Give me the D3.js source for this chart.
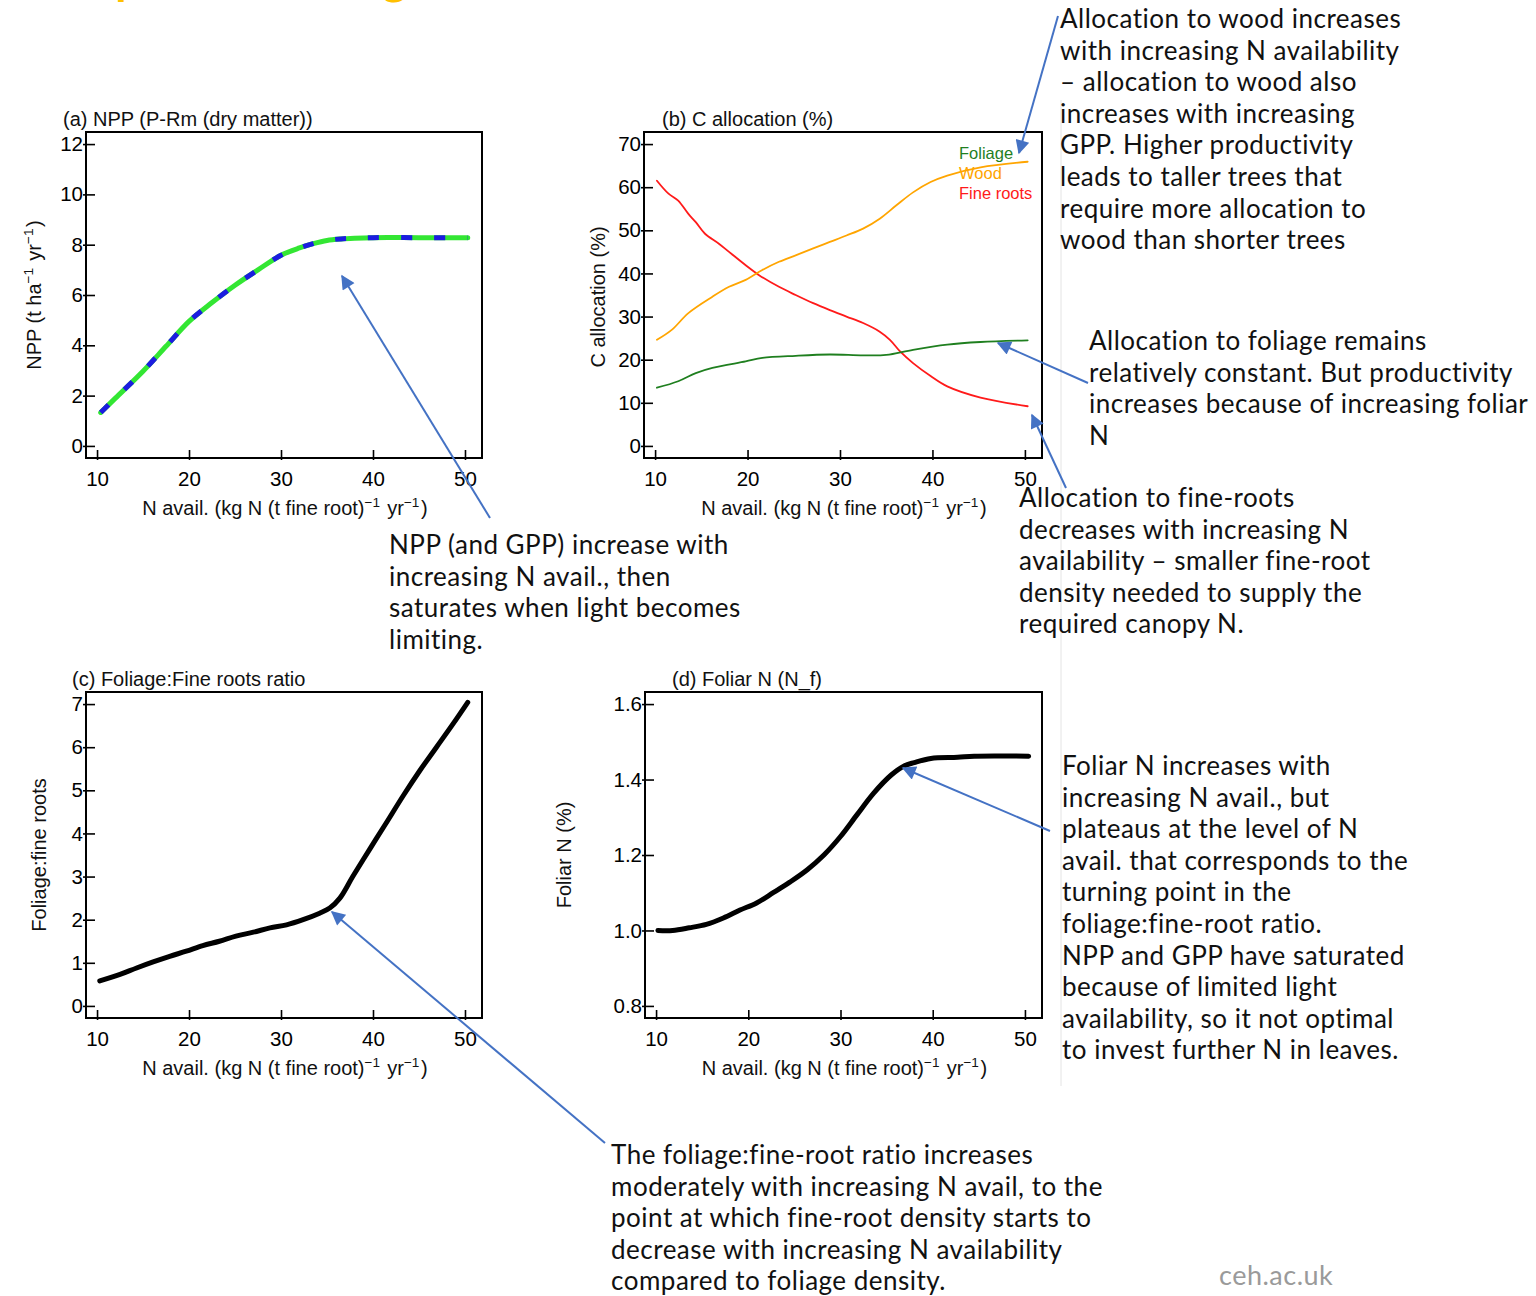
<!DOCTYPE html>
<html><head><meta charset="utf-8">
<script src="https://cdn.jsdelivr.net/npm/d3@7"></script>
<style>
html,body{margin:0;padding:0;background:#fff;}
svg{display:block;}
</style></head><body>
<script>
// ---- data: model responses along an N availability gradient ----
// (a) NPP, t ha-1 yr-1
const nppN   = [10.4, 12, 15, 17.5, 20, 22.5, 25, 27.5, 30, 32, 33.5, 35, 36.5, 38, 40, 45, 50.3];
const nppVal = [1.33, 1.9, 2.97, 3.96, 4.95, 5.7, 6.39, 7.0, 7.58, 7.87, 8.04, 8.17, 8.23, 8.26, 8.28, 8.28, 8.28];

// (b) C allocation, %
const rootN   = [10.2, 11.45, 12.5, 13.6, 14.4, 15.4, 16.9, 18, 19.8, 21.25, 23.4, 25.2, 27.1, 28.9, 30.7, 32.5, 34.3, 35.4, 36.5, 37.9, 39.8, 41.6, 45.2, 50.3];
const rootVal = [61.5, 58.5, 56.9, 53.8, 51.9, 49.2, 46.9, 45, 41.9, 39.6, 36.9, 35, 33.1, 31.5, 30, 28.5, 26.5, 24.6, 21.9, 19.2, 16.2, 13.8, 11.2, 9.2];
const woodN   = [10.2, 11.8, 13.6, 16.2, 18, 19.8, 21.6, 23.4, 25.2, 27.1, 28.9, 30.7, 32.5, 34.3, 36.1, 37.9, 39.8, 41.6, 45.2, 50.3];
const woodVal = [24.6, 26.9, 30.8, 34.6, 36.9, 38.5, 40.8, 42.7, 44.2, 45.8, 47.3, 48.8, 50.4, 52.7, 55.8, 58.8, 61.2, 62.7, 64.6, 65.9];
const foliageN   = [10.2, 12.5, 14.4, 16.2, 19.8, 21.6, 25.2, 28.9, 32.5, 35, 37.9, 41.6, 45.2, 50.3];
const foliageVal = [13.5, 15, 16.9, 18.1, 19.6, 20.4, 20.9, 21.2, 21, 21.1, 22.3, 23.5, 24.1, 24.5];
const allocLegend = ["Foliage", "Wood", "Fine roots"];

// (c) foliage : fine roots ratio
const ratioN   = [10.3, 12.5, 14.3, 16.1, 17.9, 19.7, 21.5, 23.3, 25.1, 27, 28.8, 30.6, 32.4, 34.2, 35.3, 36.4, 37.8, 39.6, 41.4, 43.3, 45.1, 46.9, 48.7, 50.3];
const ratioVal = [0.58, 0.73, 0.88, 1.02, 1.15, 1.27, 1.4, 1.5, 1.62, 1.71, 1.81, 1.88, 2.0, 2.15, 2.27, 2.5, 3.0, 3.62, 4.23, 4.88, 5.46, 6.0, 6.54, 7.04];

// (d) foliar N, %
const foliarN   = [10.2, 11.8, 13.6, 15.45, 17.3, 19.1, 20.9, 22.7, 24.5, 26.4, 28.2, 30, 31.8, 33.6, 35.5, 36.9, 38, 39.8, 42.7, 44.5, 50.4];
const foliarVal = [1.0, 1.0, 1.007, 1.016, 1.033, 1.054, 1.073, 1.1, 1.128, 1.161, 1.2, 1.249, 1.307, 1.364, 1.412, 1.436, 1.445, 1.456, 1.459, 1.462, 1.462];

// tick labels
const xTicks      = [10, 20, 30, 40, 50];
const nppTicks    = [0, 2, 4, 6, 8, 10, 12];
const allocTicks  = [0, 10, 20, 30, 40, 50, 60, 70];
const ratioTicks  = [0, 1, 2, 3, 4, 5, 6, 7];
const foliarTicks = [0.8, 1.0, 1.2, 1.4, 1.6];

// ---- drawing ----
const W = 1536, H = 1296;
const svg = d3.select("body").append("svg").attr("width", W).attr("height", H);

const plotFont = "'Liberation Sans', Arial, Helvetica, sans-serif";
const noteFont = "Lato, 'Noto Sans', sans-serif";
const blue = "#4472c4";

// slide heading (runs off the top edge)
svg.append("text").attr("x", 3).attr("y", -6)
  .attr("font-family", noteFont).attr("font-size", 46).attr("font-weight", 700)
  .attr("fill", "#ffc000").text("Example: increasing N");

// divider of the notes column
svg.append("line").attr("x1", 1061).attr("x2", 1061).attr("y1", 100).attr("y2", 1086)
  .attr("stroke", "#e4e4e4").attr("stroke-width", 1);

function supText(sel, parts) {
  // parts: array of [text, isSuperscript]
  parts.forEach(([t, sup]) => {
    if (sup) {
      sel.append("tspan").attr("dy", -8).attr("font-size", "0.68em").text(t);
      sel.append("tspan").attr("dy", 8).text("\u200A");
    } else {
      sel.append("tspan").text(t);
    }
  });
}

const xLabelParts = [["N avail. (kg N (t fine root)", false], ["\u22121", true], [" yr", false], ["\u22121", true], [")", false]];

function panel(cfg) {
  const g = svg.append("g");
  const f = cfg.frame;
  const x = d3.scaleLinear().domain([8.8, 51.85]).range([f.x0, f.x1]);
  const y = d3.scaleLinear().domain(cfg.yDomain).range([f.y1, f.y0]);

  const xa = g.append("g").attr("transform", `translate(0,${f.y1})`)
    .call(d3.axisBottom(x).tickValues(xTicks).tickSize(-8).tickSizeOuter(0).tickPadding(13));
  const ya = g.append("g").attr("transform", `translate(${f.x0},0)`)
    .call(d3.axisLeft(y).tickValues(cfg.yTicks).tickSize(-9).tickSizeOuter(0).tickPadding(3)
      .tickFormat(cfg.yFormat || d3.format("d")));
  [xa, ya].forEach(a => {
    a.select(".domain").remove();
    a.selectAll("line").attr("stroke", "#000").attr("stroke-width", 1.6);
    a.selectAll("text").attr("font-family", plotFont).attr("font-size", 20.5).attr("fill", "#000");
  });
  // small outer stub of each tick
  ya.selectAll(".tick").append("line").attr("x1", -3).attr("x2", 0).attr("stroke", "#000").attr("stroke-width", 1.6);
  xa.selectAll(".tick").append("line").attr("y1", 0).attr("y2", 2).attr("stroke", "#000").attr("stroke-width", 1.6);

  // plot box
  g.append("rect").attr("x", f.x0).attr("y", f.y0).attr("width", f.x1 - f.x0).attr("height", f.y1 - f.y0)
    .attr("fill", "none").attr("stroke", "#000").attr("stroke-width", 2);

  // title
  g.append("text").attr("x", cfg.titleX).attr("y", f.y0 - 6)
    .attr("font-family", plotFont).attr("font-size", 20).attr("fill", "#111").text(cfg.title);

  // x label
  const xl = g.append("text").attr("x", (f.x0 + f.x1) / 2 + 1).attr("y", f.y1 + 57)
    .attr("text-anchor", "middle").attr("font-family", plotFont).attr("font-size", 20).attr("fill", "#111");
  supText(xl, xLabelParts);

  // y label
  const yl = g.append("text")
    .attr("transform", `translate(${cfg.yLabelX},${cfg.yLabelY}) rotate(-90)`)
    .attr("text-anchor", "middle").attr("font-family", plotFont).attr("font-size", 20).attr("fill", "#111");
  supText(yl, cfg.yLabel);

  return {g, x, y};
}

function curve(p, xs, ys, color, width) {
  const line = d3.line().x(d => p.x(d[0])).y(d => p.y(d[1])).curve(d3.curveCatmullRom.alpha(0.5));
  const pts = d3.zip(xs, ys);
  return p.g.append("path").datum(pts).attr("d", line)
    .attr("fill", "none").attr("stroke", color).attr("stroke-width", width)
    .attr("stroke-linecap", "round").attr("stroke-linejoin", "round");
}

// (a)
const pa = panel({
  frame: {x0: 86, x1: 482, y0: 132, y1: 458}, yDomain: [-0.48, 12.48], yTicks: nppTicks,
  title: "(a) NPP (P-Rm (dry matter))", titleX: 63,
  yLabel: [["NPP (t ha", false], ["\u22121", true], [" yr", false], ["\u22121", true], [")", false]],
  yLabelX: 41, yLabelY: 295
});
curve(pa, nppN, nppVal, "#33e633", 5);
curve(pa, nppN, nppVal, "#1c1ce0", 5).attr("stroke-linecap", "butt").attr("stroke-dasharray", "11,22");

// (b)
const pb = panel({
  frame: {x0: 644, x1: 1042, y0: 132, y1: 458}, yDomain: [-2.8, 72.8], yTicks: allocTicks,
  title: "(b) C allocation (%)", titleX: 662,
  yLabel: [["C allocation (%)", false]], yLabelX: 605, yLabelY: 297
});
const allocColors = ["#1f7f1f", "#ffa500", "#ff1a1a"];
curve(pb, rootN, rootVal, allocColors[2], 1.8);
curve(pb, woodN, woodVal, allocColors[1], 1.8);
curve(pb, foliageN, foliageVal, allocColors[0], 1.8);
allocLegend.forEach((name, i) => {
  pb.g.append("text").attr("x", 959).attr("y", 159 + i * 20)
    .attr("font-family", plotFont).attr("font-size", 16.5).attr("fill", allocColors[i]).text(name);
});

// (c)
const pc = panel({
  frame: {x0: 86, x1: 482, y0: 692, y1: 1018}, yDomain: [-0.28, 7.28], yTicks: ratioTicks,
  title: "(c) Foliage:Fine roots ratio", titleX: 72,
  yLabel: [["Foliage:fine roots", false]], yLabelX: 46, yLabelY: 855
});
curve(pc, ratioN, ratioVal, "#000", 5);

// (d)
const pd = panel({
  frame: {x0: 645, x1: 1042, y0: 692, y1: 1018}, yDomain: [0.768, 1.632], yTicks: foliarTicks,
  yFormat: d3.format(".1f"),
  title: "(d) Foliar N (N_f)", titleX: 672,
  yLabel: [["Foliar N (%)", false]], yLabelX: 571, yLabelY: 855
});
curve(pd, foliarN, foliarVal, "#000", 5);

// ---- notes and pointers ----
const defs = svg.append("defs");
defs.append("marker").attr("id", "head").attr("viewBox", "0 0 10 10")
  .attr("refX", 9).attr("refY", 5).attr("markerWidth", 17).attr("markerHeight", 14)
  .attr("markerUnits", "userSpaceOnUse").attr("orient", "auto")
  .append("path").attr("d", "M0,0 L10,5 L0,10 Z").attr("fill", blue);

const pointers = [
  [1058, 16, 1019, 153],
  [1088, 383, 998, 343],
  [1066, 488, 1032, 415],
  [490, 518, 342, 276],
  [1050, 831, 903, 768],
  [605, 1143, 332, 912]
];
pointers.forEach(([x1, y1, x2, y2]) => {
  svg.append("line").attr("x1", x1).attr("y1", y1).attr("x2", x2).attr("y2", y2)
    .attr("stroke", blue).attr("stroke-width", 2).attr("marker-end", "url(#head)");
});

const notes = [
  {x: 1060, y: 28, lines: ["Allocation to wood increases", "with increasing N availability", "\u2013 allocation to wood also", "increases with increasing", "GPP. Higher productivity", "leads to taller trees that", "require more allocation to", "wood than shorter trees"]},
  {x: 1089, y: 350, lines: ["Allocation to foliage remains", "relatively constant. But productivity", "increases because of increasing foliar", "N"]},
  {x: 1019, y: 507, lines: ["Allocation to fine-roots", "decreases with increasing N", "availability \u2013 smaller fine-root", "density needed to supply the", "required canopy N."]},
  {x: 389, y: 554, lines: ["NPP (and GPP) increase with", "increasing N avail., then", "saturates when light becomes", "limiting."]},
  {x: 1062, y: 775, lines: ["Foliar N increases with", "increasing N avail., but", "plateaus at the level of N", "avail. that corresponds to the", "turning point in the", "foliage:fine-root ratio.", "NPP and GPP have saturated", "because of limited light", "availability, so it not optimal", "to invest further N in leaves."]},
  {x: 611, y: 1164, lines: ["The foliage:fine-root ratio increases", "moderately with increasing N avail, to the", "point at which fine-root density starts to", "decrease with increasing N availability", "compared to foliage density."]}
];
notes.forEach(n => {
  const t = svg.append("text").attr("font-family", noteFont).attr("font-size", 26)
    .attr("letter-spacing", 0.5).attr("fill", "#111");
  n.lines.forEach((s, i) => {
    t.append("tspan").attr("x", n.x).attr("y", n.y + i * 31.6).text(s);
  });
});

svg.append("text").attr("x", 1219).attr("y", 1285)
  .attr("font-family", noteFont).attr("font-size", 27).attr("letter-spacing", 0.5)
  .attr("fill", "#9a9a9a").text("ceh.ac.uk");
</script>
</body></html>
